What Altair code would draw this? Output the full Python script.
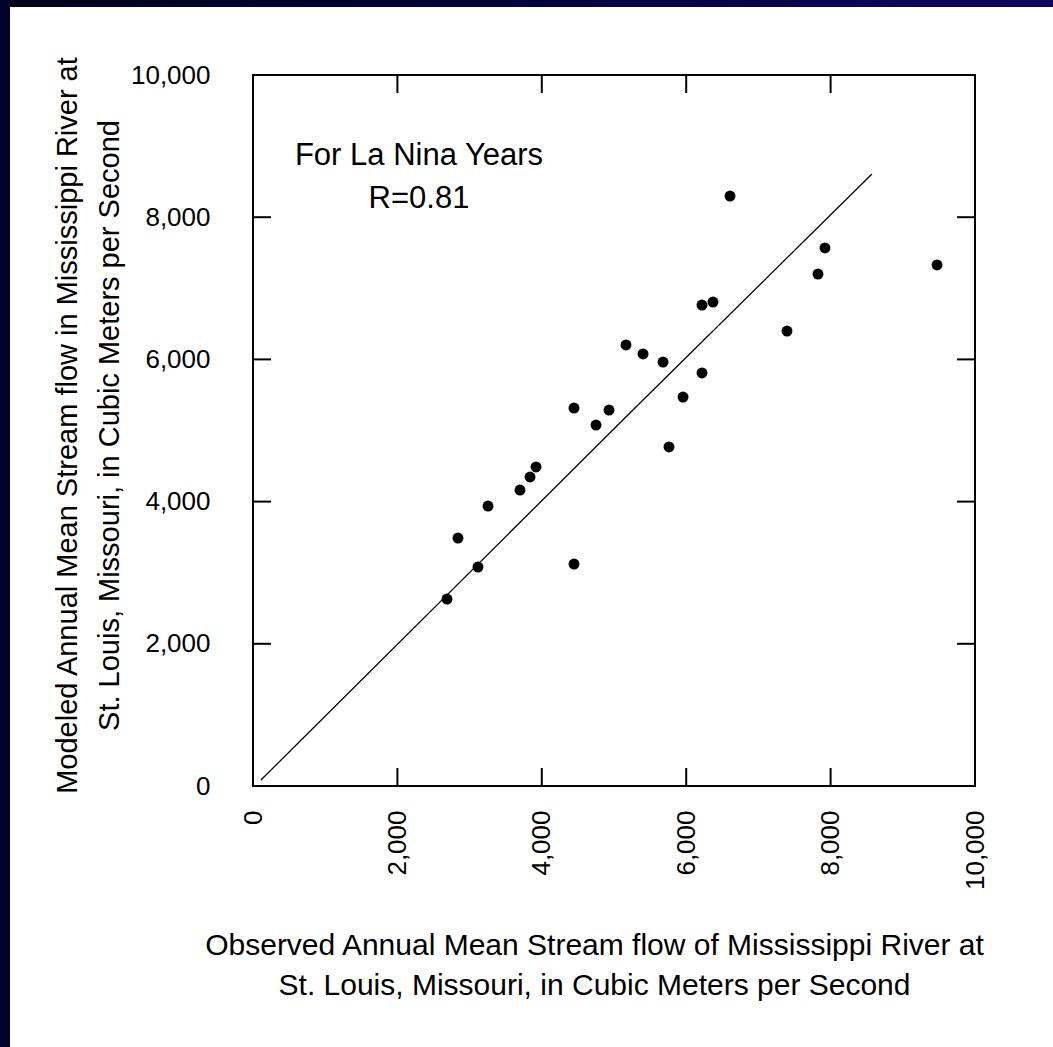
import altair as alt
import pandas as pd

# ---- data ----
observed = [2687, 2839, 3116, 3255, 3698, 3837, 3920, 4446, 4446, 4751, 4931, 5166,
            5402, 5679, 5762, 5956, 6219, 6219, 6371, 6607, 7396, 7825, 7922, 9474]
modeled = [2630, 3488, 3080, 3938, 4163, 4346, 4487, 3122, 5316, 5077, 5288, 6203,
           6076, 5963, 4768, 5471, 5809, 6765, 6807, 8298, 6399, 7201, 7567, 7328]
fit_x = [110, 5290, 8573]
fit_y = [84, 5316, 8608]
tick_values = [0, 2000, 4000, 6000, 8000, 10000]
inner_ticks = [2000, 4000, 6000, 8000]
annotation_lines = ["For La Nina Years", "R=0.81"]
x_title = ["Observed Annual  Mean Stream flow of Mississippi River at",
           "St. Louis, Missouri, in Cubic Meters per Second"]
y_title = ["Modeled Annual Mean Stream flow in Mississippi River at",
           "St. Louis, Missouri, in Cubic Meters per Second"]

W, H = 722, 711
FONT = "Liberation Sans, Arial, sans-serif"
TL = 18

pts = pd.DataFrame({"observed": observed, "modeled": modeled})
fit = pd.DataFrame({"observed": fit_x, "modeled": fit_y})
ticks = pd.DataFrame({"observed": inner_ticks, "modeled": inner_ticks})
one = pd.DataFrame({"a": [0]})

xs = alt.Scale(domain=[0, 10000], nice=False, zero=False)
ys = alt.Scale(domain=[0, 10000], nice=False, zero=False)

x_axis = alt.Axis(values=tick_values, format=",.0f", labelAngle=270, labelAlign="right",
                  labelBaseline="middle", labelPadding=24, ticks=False, tickSize=0,
                  domain=False, grid=False, labelFont=FONT, labelFontSize=26,
                  labelColor="black", labelFlush=False, labelOverlap=False,
                  title=x_title, titleFont=FONT, titleFontSize=30, titleFontWeight="normal",
                  titleColor="black", titleX=341, titleY=144, titleAlign="center",
                  titleBaseline="top", titleLineHeight=40, titleAngle=0)
y_axis = alt.Axis(values=tick_values, format=",.0f", labelAlign="right", labelBaseline="middle",
                  labelPadding=43, ticks=False, tickSize=0, domain=False, grid=False,
                  labelFont=FONT, labelFontSize=26, labelColor="black", labelFlush=False,
                  labelOverlap=False,
                  title=y_title, titleFont=FONT, titleFontSize=29, titleFontWeight="normal",
                  titleColor="black", titleX=-200, titleY=350, titleAlign="center",
                  titleBaseline="top", titleLineHeight=42, titleAngle=270)

points = alt.Chart(pts).mark_circle(size=120, color="black", opacity=1).encode(
    x=alt.X("observed:Q", scale=xs, axis=x_axis),
    y=alt.Y("modeled:Q", scale=ys, axis=y_axis),
)

line = alt.Chart(fit).mark_line(color="black", strokeWidth=1.3).encode(
    x=alt.X("observed:Q", scale=xs),
    y=alt.Y("modeled:Q", scale=ys),
)

tick_b = alt.Chart(ticks).mark_rule(color="black", strokeWidth=2).encode(
    x=alt.X("observed:Q", scale=xs), y=alt.value(H), y2=alt.value(H - TL))
tick_t = alt.Chart(ticks).mark_rule(color="black", strokeWidth=2).encode(
    x=alt.X("observed:Q", scale=xs), y=alt.value(0), y2=alt.value(TL))
tick_l = alt.Chart(ticks).mark_rule(color="black", strokeWidth=2).encode(
    y=alt.Y("modeled:Q", scale=ys), x=alt.value(0), x2=alt.value(TL))
tick_r = alt.Chart(ticks).mark_rule(color="black", strokeWidth=2).encode(
    y=alt.Y("modeled:Q", scale=ys), x=alt.value(W), x2=alt.value(W - TL))

note = alt.Chart(one).mark_text(align="center", baseline="middle", font=FONT, fontSize=31,
                                color="black", lineBreak="\n", lineHeight=43).encode(
    x=alt.value(166), y=alt.value(81), text=alt.value("\n".join(annotation_lines)))

grad = alt.Gradient(gradient="linear", x1=0, x2=1, y1=0, y2=0,
                    stops=[alt.GradientStop(color="#00001a", offset=0),
                           alt.GradientStop(color="#08085e", offset=1)])
band_top = alt.Chart(one).mark_rect(fill=grad).encode(
    x=alt.value(-253), x2=alt.value(800), y=alt.value(-75), y2=alt.value(-68))
band_left = alt.Chart(one).mark_rect(color="#00002a").encode(
    x=alt.value(-253), x2=alt.value(-243), y=alt.value(-75), y2=alt.value(972))

chart = alt.layer(points, line, tick_b, tick_t, tick_l, tick_r, note, band_top, band_left).properties(
    width=W, height=H,
    padding={"left": 253, "top": 75, "right": 78, "bottom": 261},
    autosize=alt.AutoSizeParams(type="none"),
    background="white",
).configure_view(stroke="black", strokeWidth=2)

chart.save("out.html", embed_options={"renderer": "svg", "actions": False})
